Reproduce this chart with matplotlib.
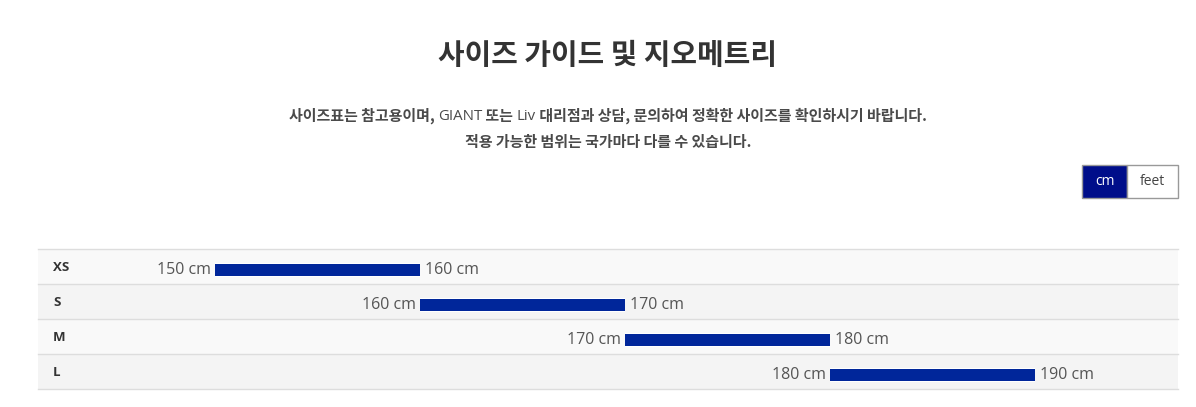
import matplotlib
matplotlib.use("Agg")
import matplotlib.pyplot as plt
from matplotlib.transforms import IdentityTransform, offset_copy

# ── data ──────────────────────────────────────────────────────────────────────
sizes = ["XS", "S", "M", "L"]
height_min = [150, 160, 170, 180]
height_max = [160, 170, 180, 190]
unit = "cm"

title = "사이즈 가이드 및 지오메트리"
line1 = [("사이즈표는 참고용이며, ", "bold"), ("GIANT", "normal"), (" 또는 ", "bold"),
         ("Liv", "normal"), (" 대리점과 상담, 문의하여 정확한 사이즈를 확인하시기 바랍니다.", "bold")]
line2 = [("적용 가능한 범위는 국가마다 다를 수 있습니다.", "bold")]

BAR = "#00269a"
NAVY = "#000e8a"
FAM = ["Open Sans", "Noto Sans CJK KR", "DejaVu Sans"]
KR = ["Noto Sans CJK KR", "DejaVu Sans"]

W, H = 1196, 407
fig = plt.figure(figsize=(W / 100, H / 100), dpi=100)
fig.patch.set_facecolor("white")
ident = IdentityTransform()


def px_text(x, y_top, s, **kw):
    # place text in pixel coords measured from the top edge
    return fig.text(x, H - y_top, s, transform=ident, **kw)


# ── header ──
px_text(608, 55, title, ha="center", va="center", fontsize=20.8,
        fontweight="bold", color="#333333", family=KR)

renderer = fig.canvas.get_renderer()


def centered_line(parts, cx, y_top, size=10.8):
    objs = []
    for s, w in parts:
        t = px_text(0, y_top, s, ha="left", va="center", fontsize=size, fontweight=w,
                    color="#4a4a4a", family=KR if w == "bold" else FAM)
        objs.append(t)
    widths = [t.get_window_extent(renderer).width for t in objs]
    x = cx - sum(widths) / 2
    for t, wd in zip(objs, widths):
        t.set_x(x)
        x += wd


centered_line(line1, 608, 116)
centered_line(line2, 608, 142)

# ── unit toggle ──
for x0, x1, lab, fc, tc in [(1082, 1127, "cm", NAVY, "white"), (1127, 1178, "feet", "white", "#444444")]:
    fig.patches.append(plt.Rectangle((x0, H - 198), x1 - x0, 33, transform=ident,
                                     facecolor=fc, edgecolor="#999999", linewidth=1))
    px_text((x0 + x1) / 2, 181.5, lab, ha="center", va="center", fontsize=10,
            color=tc, family=FAM)

# ── range chart ──
ax = fig.add_axes([38 / W, 1 - 389 / H, (1178 - 38) / W, (389 - 249) / H])
ax.set_xlim(141.366, 196.976)
ax.set_ylim(len(sizes) - 0.5, -0.5)
ax.axis("off")

for i, s in enumerate(sizes):
    ax.axhspan(i - 0.5, i + 0.5, color="#f9f9f9" if i % 2 == 0 else "#f4f4f4", lw=0, zorder=0)
for i in range(len(sizes) + 1):
    ax.axhline(i - 0.5, color="#dddddd", lw=1, zorder=1, clip_on=False)

span = [b - a for a, b in zip(height_min, height_max)]
y = [i + 0.086 for i in range(len(sizes))]
ax.barh([v + 0.014 for v in y], span, left=height_min, height=0.4, color="white", zorder=2)
ax.barh(y, span, left=height_min, height=0.343, color=BAR, zorder=3)

left_off = offset_copy(ax.transData, fig=fig, x=-4, y=0, units="dots")
right_off = offset_copy(ax.transData, fig=fig, x=5, y=0, units="dots")
for i, s in enumerate(sizes):
    ax.text(0.0132, i + 0.02, s, transform=ax.get_yaxis_transform(), ha="left", va="center",
            fontsize=9.5, fontweight="bold", color="#333333", family=FAM)
    ax.text(height_min[i], y[i], f"{height_min[i]} {unit}", transform=left_off,
            ha="right", va="center", fontsize=11.5, color="#555555", family=FAM)
    ax.text(height_max[i], y[i], f"{height_max[i]} {unit}", transform=right_off,
            ha="left", va="center", fontsize=11.5, color="#555555", family=FAM)

fig.savefig("out.png", dpi=100)
